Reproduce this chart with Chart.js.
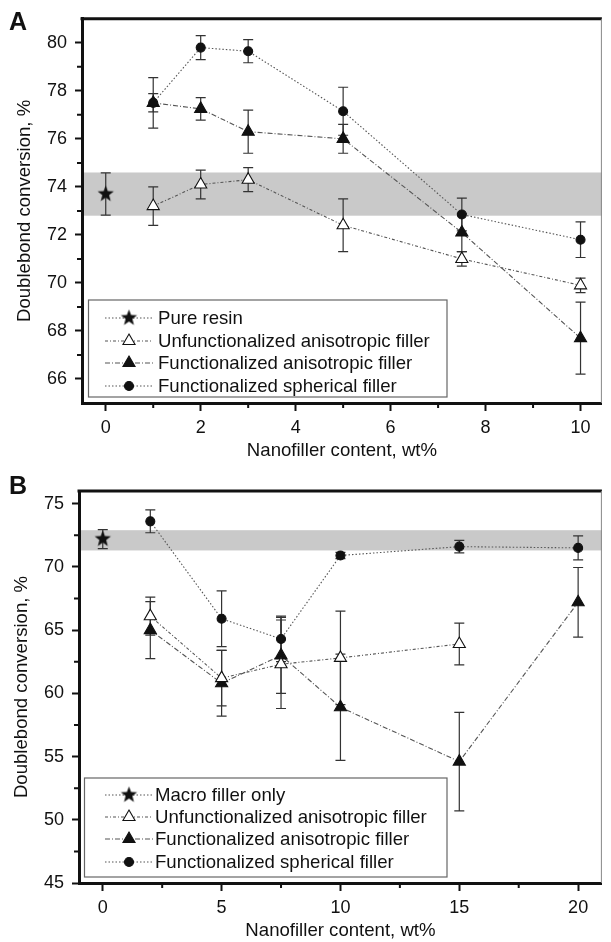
<!DOCTYPE html>
<html>
<head>
<meta charset="utf-8">
<script src="https://cdn.jsdelivr.net/npm/chart.js@4.4.1/dist/chart.umd.min.js"></script>
<style>
  html, body { margin: 0; padding: 0; background: #fff; }
  #wrap { position: relative; width: 611px; height: 942px; }
  .panel { position: absolute; left: 0; width: 611px; }
  .tag { position: absolute; left: 9px; line-height: 1; font: bold 25px "Liberation Sans", Arial, sans-serif; color: #111; }
</style>
</head>
<body>
<div id="wrap">
  <div class="panel" style="top:0;height:470px"><canvas id="chartA" width="611" height="470"></canvas></div>
  <div class="panel" style="top:470px;height:472px"><canvas id="chartB" width="611" height="472"></canvas></div>
  <div class="tag" style="top:7px">A</div>
  <div class="tag" style="top:471px">B</div>
</div>
<script>
const FONT = '"Liberation Sans", Arial, sans-serif';

// ---- panel A data
const xA = [1, 2, 3, 5, 7.5, 10];
const pureX = [0];
const pureY = [73.7];
const pureErr = [0.88];
const unfuncA = [73.2, 74.1, 74.3, 72.4, 71.0, 69.9];
const unfuncAErr = [0.8, 0.6, 0.5, 1.1, 0.3, 0.3];
const funcA = [77.5, 77.25, 76.3, 76.0, 72.1, 67.7];
const funcAErr = [0.38, 0.47, 0.9, 0.6, 0.8, 1.5];
const sphA = [77.5, 79.8, 79.65, 77.15, 72.85, 71.8];
const sphAErr = [1.05, 0.5, 0.48, 1.0, 0.68, 0.74];
const xTicksA = [0, 2, 4, 6, 8, 10];
const xMinorA = [1, 3, 5, 7, 9];
const yTicksA = [66, 68, 70, 72, 74, 76, 78, 80];
const yMinorA = [67, 69, 71, 73, 75, 77, 79];
const bandA = [72.8, 74.6];

// ---- panel B data
const macroX = [0];
const macroY = [72.2];
const macroErr = [0.75];
const xUnfuncB = [2, 5, 7.5, 10, 15];
const unfuncB = [66.1, 61.2, 62.3, 62.8, 63.9];
const unfuncBErr = [1.5, 2.2, 3.5, 3.7, 1.65];
const xB = [2, 5, 7.5, 10, 15, 20];
const funcB = [65.0, 60.8, 63.0, 58.9, 54.6, 67.2];
const funcBErr = [2.25, 2.6, 3.0, 4.2, 3.9, 2.75];
const sphB = [73.6, 65.9, 64.3, 70.9, 71.6, 71.5];
const sphBErr = [0.9, 2.2, 1.8, 0.25, 0.5, 0.95];
const xTicksB = [0, 5, 10, 15, 20];
const xMinorB = [2.5, 7.5, 12.5, 17.5];
const yTicksB = [45, 50, 55, 60, 65, 70, 75];
const yMinorB = [47.5, 52.5, 57.5, 62.5, 67.5, 72.5];
const bandB = [71.3, 72.9];

// filled star used as point style
function makeStar(r) {
  const c = document.createElement('canvas');
  c.width = c.height = r * 2 + 2;
  const g = c.getContext('2d');
  g.fillStyle = '#111';
  g.beginPath();
  for (let i = 0; i < 10; i++) {
    const rr = i % 2 ? r * 0.42 : r;
    const a = -Math.PI / 2 + i * Math.PI / 5;
    g.lineTo(r + 1 + rr * Math.cos(a), r + 1 + rr * Math.sin(a));
  }
  g.closePath();
  g.fill();
  return c;
}
const star = makeStar(8.5);

const pts = (xs, ys) => xs.map((x, i) => ({x: x, y: ys[i]}));

function series(label, xs, ys, errs, kind) {
  const ds = {
    label: label,
    data: pts(xs, ys),
    errors: errs,
    showLine: kind !== 'star',
    borderColor: '#555',
    borderWidth: 1.1,
    pointBorderColor: '#111',
    pointBorderWidth: 1.1,
    pointBackgroundColor: '#111'
  };
  if (kind === 'star') { ds.pointStyle = star; ds.borderDash = [1.5, 2]; ds.pointRadius = 8; }
  if (kind === 'open') { ds.pointStyle = 'triangle'; ds.pointRadius = 7; ds.pointBackgroundColor = '#fff'; ds.borderDash = [3, 2, 1, 2]; }
  if (kind === 'tri') { ds.pointStyle = 'triangle'; ds.pointRadius = 7; ds.borderDash = [5, 2, 1, 2]; }
  if (kind === 'dot') { ds.pointStyle = 'circle'; ds.pointRadius = 4.5; ds.borderDash = [1.5, 2]; }
  return ds;
}

function drawMarker(ctx, ds, x, y) {
  const r = ds.pointRadius;
  if (ds.pointStyle === star) { ctx.drawImage(star, x - star.width / 2, y - star.height / 2); return; }
  ctx.beginPath();
  if (ds.pointStyle === 'circle') {
    ctx.arc(x, y, r, 0, Math.PI * 2);
  } else {
    let a = 0;
    for (let i = 0; i < 3; i++) { ctx.lineTo(x + Math.sin(a) * r, y - Math.cos(a) * r); a += Math.PI * 2 / 3; }
    ctx.closePath();
  }
  ctx.fillStyle = ds.pointBackgroundColor;
  ctx.fill();
  ctx.lineWidth = ds.pointBorderWidth;
  ctx.strokeStyle = ds.pointBorderColor;
  ctx.stroke();
}

const decor = {
  id: 'decor',
  beforeDraw(chart, args, o) {
    const {ctx, chartArea: a, scales: {y}} = chart;
    const t = y.getPixelForValue(o.band[1]), b = y.getPixelForValue(o.band[0]);
    ctx.save();
    ctx.fillStyle = '#c9c9c9';
    ctx.fillRect(a.left, t, a.right - a.left, b - t);
    ctx.restore();
  },
  beforeDatasetsDraw(chart) {
    const {ctx, scales: {x, y}} = chart;
    ctx.save();
    ctx.strokeStyle = '#333';
    ctx.lineWidth = 1.2;
    chart.data.datasets.forEach(ds => {
      ds.data.forEach((p, i) => {
        const px = x.getPixelForValue(p.x);
        const hi = y.getPixelForValue(p.y + ds.errors[i]);
        const lo = y.getPixelForValue(p.y - ds.errors[i]);
        ctx.beginPath();
        ctx.moveTo(px, hi); ctx.lineTo(px, lo);
        ctx.moveTo(px - 5, hi); ctx.lineTo(px + 5, hi);
        ctx.moveTo(px - 5, lo); ctx.lineTo(px + 5, lo);
        ctx.stroke();
      });
    });
    ctx.restore();
  },
  afterDraw(chart, args, o) {
    const {ctx, chartArea: a, scales: {x, y}} = chart;
    ctx.save();
    // minor ticks
    ctx.strokeStyle = '#111';
    ctx.lineWidth = 2;
    ctx.beginPath();
    o.minorX.forEach(v => { const px = x.getPixelForValue(v); ctx.moveTo(px, a.bottom); ctx.lineTo(px, a.bottom + 5); });
    o.minorY.forEach(v => { const py = y.getPixelForValue(v); ctx.moveTo(a.left, py); ctx.lineTo(a.left - 5, py); });
    ctx.stroke();
    // frame top / right
    ctx.lineWidth = 3;
    ctx.beginPath(); ctx.moveTo(a.left - 1.5, a.top); ctx.lineTo(a.right, a.top); ctx.stroke();
    ctx.strokeStyle = '#888';
    ctx.lineWidth = 1;
    ctx.beginPath(); ctx.moveTo(a.right - 0.5, a.top); ctx.lineTo(a.right - 0.5, a.bottom); ctx.stroke();
    // legend
    const L = o.legend;
    ctx.fillStyle = '#fff';
    ctx.fillRect(L.left, L.top, L.right - L.left, L.bottom - L.top);
    ctx.strokeStyle = '#666';
    ctx.lineWidth = 1.2;
    ctx.strokeRect(L.left, L.top, L.right - L.left, L.bottom - L.top);
    ctx.font = '18.6px ' + FONT;
    ctx.textBaseline = 'middle';
    chart.data.datasets.forEach((ds, i) => {
      const ry = L.rows[i];
      ctx.save();
      ctx.strokeStyle = ds.borderColor;
      ctx.lineWidth = ds.borderWidth;
      ctx.setLineDash(ds.borderDash);
      ctx.beginPath(); ctx.moveTo(L.lineFrom, ry); ctx.lineTo(L.lineTo, ry); ctx.stroke();
      ctx.restore();
      drawMarker(ctx, ds, (L.lineFrom + L.lineTo) / 2, ry);
      ctx.fillStyle = '#111';
      ctx.fillText(ds.label, L.text, ry + 1);
    });
    ctx.restore();
  }
};

function makeChart(id, cfg) {
  const tickFont = {family: FONT, size: 18};
  const titleFont = {family: FONT, size: 18.6};
  return new Chart(document.getElementById(id), {
    type: 'scatter',
    data: {datasets: cfg.datasets},
    options: {
      responsive: false,
      animation: false,
      layout: {padding: {top: cfg.top, right: 1, left: 0, bottom: 0}},
      plugins: {
        legend: {display: false},
        tooltip: {enabled: false},
        decor: {band: cfg.band, minorX: cfg.minorX, minorY: cfg.minorY, legend: cfg.legend}
      },
      scales: {
        x: {
          type: 'linear', min: cfg.xMin, max: cfg.xMax,
          afterBuildTicks: s => { s.ticks = cfg.xTicks.map(v => ({value: v})); },
          afterFit: s => { s.height = cfg.xHeight; },
          grid: {drawOnChartArea: false, tickLength: 8, tickWidth: 2, tickColor: '#111'},
          border: {color: '#111', width: 3},
          ticks: {color: '#111', font: tickFont, padding: 6, maxRotation: 0, autoSkip: false},
          title: {display: true, text: 'Nanofiller content, wt%', color: '#111', font: titleFont, padding: {top: 0, bottom: cfg.xTitlePad}}
        },
        y: {
          min: cfg.yMin, max: cfg.yMax,
          afterBuildTicks: s => { s.ticks = cfg.yTicks.map(v => ({value: v})); },
          afterFit: s => { s.width = cfg.yWidth; },
          grid: {drawOnChartArea: false, tickLength: 7, tickWidth: 2, tickColor: '#111'},
          border: {color: '#111', width: 3},
          ticks: {color: '#111', font: tickFont, padding: 8, autoSkip: false},
          title: {display: true, text: 'Doublebond conversion, %', color: '#111', font: titleFont, padding: {top: cfg.yTitlePad, bottom: 0}}
        }
      }
    },
    plugins: [decor]
  });
}

makeChart('chartA', {
  datasets: [
    series('Pure resin', pureX, pureY, pureErr, 'star'),
    series('Unfunctionalized anisotropic filler', xA, unfuncA, unfuncAErr, 'open'),
    series('Functionalized anisotropic filler', xA, funcA, funcAErr, 'tri'),
    series('Functionalized spherical filler', xA, sphA, sphAErr, 'dot')
  ],
  band: bandA, minorX: xMinorA, minorY: yMinorA,
  xTicks: xTicksA, yTicks: yTicksA,
  xMin: -0.5, xMax: 10.45, yMin: 65, yMax: 81,
  top: 13, xHeight: 67, yWidth: 82, xTitlePad: 8, yTitlePad: 14,
  legend: {left: 88.5, top: 300, right: 447, bottom: 397, rows: [318, 341, 363, 386], lineFrom: 105, lineTo: 153, text: 158}
});

makeChart('chartB', {
  datasets: [
    series('Macro filler only', macroX, macroY, macroErr, 'star'),
    series('Unfunctionalized anisotropic filler', xUnfuncB, unfuncB, unfuncBErr, 'open'),
    series('Functionalized anisotropic filler', xB, funcB, funcBErr, 'tri'),
    series('Functionalized spherical filler', xB, sphB, sphBErr, 'dot')
  ],
  band: bandB, minorX: xMinorB, minorY: yMinorB,
  xTicks: xTicksB, yTicks: yTicksB,
  xMin: -1, xMax: 21, yMin: 45, yMax: 76,
  top: 21, xHeight: 59, yWidth: 79, xTitlePad: 0, yTitlePad: 11,
  legend: {left: 84.5, top: 308, right: 447, bottom: 407, rows: [325, 347, 369, 392], lineFrom: 105, lineTo: 153, text: 155}
});
</script>
</body>
</html>
